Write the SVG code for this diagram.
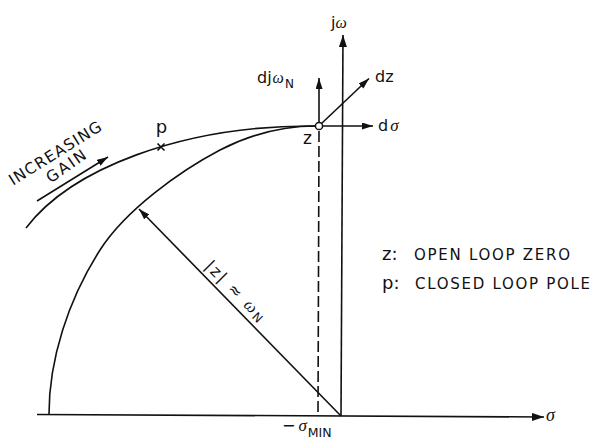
<svg xmlns="http://www.w3.org/2000/svg" width="597" height="440" viewBox="0 0 597 440">
<style>
.ln{fill:none;stroke:#111;stroke-width:1.6;stroke-linecap:butt}
.sans{font-family:"DejaVu Sans","Liberation Sans",sans-serif;fill:#111}
.ser{font-family:"Liberation Serif","DejaVu Serif",serif;font-style:italic;fill:#111}
</style>
<defs>
<marker id="ah" markerUnits="userSpaceOnUse" markerWidth="12" markerHeight="8" refX="12" refY="4" orient="auto"><path d="M0,0 L12,4 L0,8 z" fill="#111"/></marker>
<marker id="as" markerUnits="userSpaceOnUse" markerWidth="11" markerHeight="7" refX="11" refY="3.5" orient="auto"><path d="M0,0 L11,3.5 L0,7 z" fill="#111"/></marker>
</defs>
<rect width="597" height="440" fill="#fff"/>
<g id="connectors">
<path id="sigma-axis" class="ln" d="M37,414.5 L544,417" marker-end="url(#ah)"/>
<path id="jw-axis" class="ln" d="M341,416 L343,35" marker-end="url(#ah)"/>
<path id="dashed" class="ln" d="M319,131 L318,416" stroke-dasharray="11 4"/>
<path id="radius" class="ln" d="M341,416 L139,209" stroke-width="1.4" marker-end="url(#as)"/>
<path id="arc" class="ln" d="M49,414 C49,360 68,300 100,250 C125.6,210 180,171 220,150 C255,132 290,126 316,126" stroke-width="1.7"/>
<path id="locus" class="ln" d="M26,228 C70,170 180,125 315.5,126" stroke-width="2.7"/>
<path id="gain-arrow" class="ln" d="M37,201 L108,157" stroke-width="1.4" marker-end="url(#as)"/>
<path id="d-jwn" class="ln" d="M319,122.5 L319,78" stroke-width="1.8" marker-end="url(#as)"/>
<path id="d-sigma" class="ln" d="M322.5,126 L373,126" stroke-width="1.8" marker-end="url(#as)"/>
<path id="d-z" class="ln" d="M321.5,123.5 L369,78.5" stroke-width="1.8" marker-end="url(#as)"/>
</g>
<g id="zero">
<circle cx="319" cy="126" r="3.6" fill="#fff" stroke="#111" stroke-width="1.5"/>
<text class="sans" x="307.5" y="144" font-size="17" text-anchor="middle">z</text>
</g>
<g id="pole">
<path class="ln" d="M157.5,143.5 L164.5,150.5 M164.5,143.5 L157.5,150.5" stroke-width="1.6"/>
<text class="sans" x="161.5" y="133" font-size="18" text-anchor="middle">p</text>
</g>
<g id="labels">
<text class="sans" x="331" y="28" font-size="16">j<tspan class="ser" font-size="16">ω</tspan></text>
<text class="sans" x="257" y="83" font-size="16">dj<tspan class="ser" dx="1">ω</tspan><tspan font-size="12" dy="5" dx="1">N</tspan></text>
<text class="sans" x="375" y="82" font-size="16">dz</text>
<text class="sans" x="378" y="131" font-size="16">d<tspan class="ser" dx="2" font-size="17">σ</tspan></text>
<text class="ser" x="546" y="421" font-size="18">σ</text>
<text class="sans" x="282" y="431" font-size="16">−<tspan class="ser" dx="3" font-size="17">σ</tspan><tspan font-size="12.5" dy="6" dx="1">MIN</tspan></text>
<text class="sans" font-size="16" text-anchor="middle" transform="translate(235,291) rotate(45)" y="5" textLength="78" lengthAdjust="spacing">|z| ≈ <tspan class="ser" font-size="17">ω</tspan><tspan font-size="12" dy="2">N</tspan></text>
<text class="sans" font-size="15.5" text-anchor="middle" transform="translate(55,153) rotate(-32)" y="5.5" textLength="106" lengthAdjust="spacing">INCREASING</text>
<text class="sans" font-size="15.5" text-anchor="middle" transform="translate(66,166) rotate(-35)" y="5.5" textLength="45" lengthAdjust="spacing">GAIN</text>
</g>
<g id="legend">
<text class="sans" x="382" y="260" font-size="18">z:</text>
<text class="sans" x="414" y="260" font-size="15" textLength="156" lengthAdjust="spacing">OPEN  LOOP ZERO</text>
<text class="sans" x="382" y="289" font-size="18">p:</text>
<text class="sans" x="415" y="289" font-size="15" textLength="175" lengthAdjust="spacing">CLOSED  LOOP  POLE</text>
</g>
</svg>
